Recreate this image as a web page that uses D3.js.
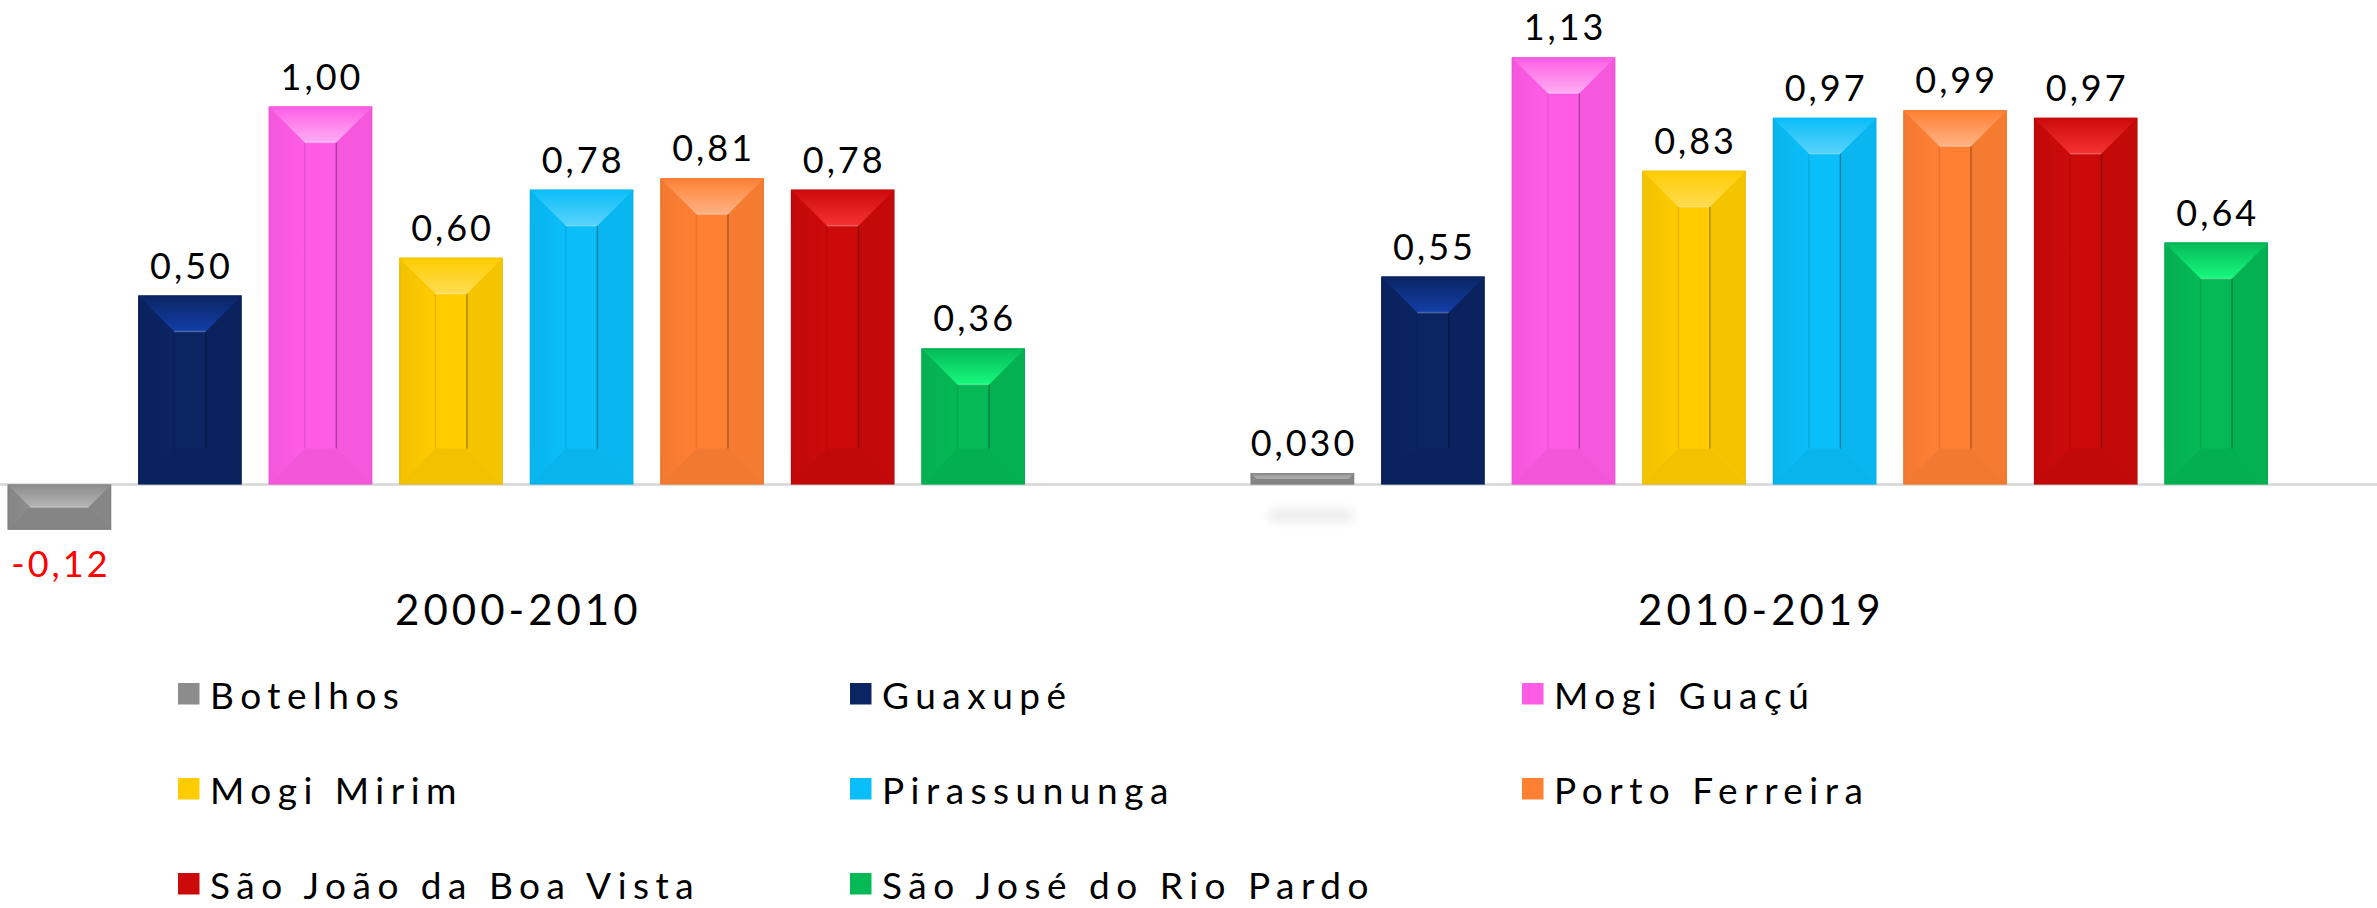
<!DOCTYPE html>
<html>
<head>
<meta charset="utf-8">
<script src="https://cdn.jsdelivr.net/npm/d3@7"></script>
<style>
  html, body { margin: 0; padding: 0; background: #ffffff; }
  svg { display: block; }
  text { font-family: "Lato", "Open Sans", sans-serif; font-weight: 400; fill: #000; }
</style>
</head>
<body>
<svg id="chart" width="2377" height="908"></svg>
<script>
// ---------------- data ----------------
const periods = ["2000-2010", "2010-2019"];
const cities = ["Botelhos", "Guaxupé", "Mogi Guaçú", "Mogi Mirim", "Pirassununga",
                "Porto Ferreira", "São João da Boa Vista", "São José do Rio Pardo"];
const values2000_2010 = [-0.12, 0.50, 1.00, 0.60, 0.78, 0.81, 0.78, 0.36];
const values2010_2019 = [0.030, 0.55, 1.13, 0.83, 0.97, 0.99, 0.97, 0.64];
const cityColors = ["#8c8c8c", "#0b2462", "#ff5ce6", "#ffcc00", "#0abef9",
                    "#ff8033", "#cc0a0a", "#05b956"];

const seriesByPeriod = { "2000-2010": values2000_2010, "2010-2019": values2010_2019 };

// ---------------- setup ----------------
const W = 2377, H = 908;
const svg = d3.select("#chart");
const defs = svg.append("defs");

const x0 = d3.scaleBand().domain(periods).range([7.7, 2268]).paddingInner(0.1816).paddingOuter(0);
const x1 = d3.scaleBand().domain(cities).range([0, x0.bandwidth()]).paddingInner(0.207).paddingOuter(0);
const y = d3.scaleLinear().domain([0, 1]).range([484.5, 106.5]);
const color = d3.scaleOrdinal().domain(cities).range(cityColors);

const ptBR = d3.formatLocale({ decimal: ",", thousands: ".", grouping: [3], currency: ["R$", ""], minus: "-" });
const fmt2 = ptBR.format(".2f"), fmt3 = ptBR.format(".3f");
const fmtVal = v => (Math.abs(v) < 0.1 ? fmt3(v) : fmt2(v));

// gradients per colour
cities.forEach((c, i) => {
  const base = d3.color(color(c));
  const hl = d3.hsl(base); hl.l = Math.min(0.9, hl.l + 0.16);
  const gTop = defs.append("linearGradient").attr("id", "gt" + i)
    .attr("x1", 0).attr("y1", 0).attr("x2", 0).attr("y2", 1);
  gTop.append("stop").attr("offset", "0%").attr("stop-color", base.formatHex());
  gTop.append("stop").attr("offset", "100%").attr("stop-color", hl.formatHex());
  const gLeft = defs.append("linearGradient").attr("id", "gl" + i)
    .attr("x1", 0).attr("y1", 0).attr("x2", 1).attr("y2", 0);
  gLeft.append("stop").attr("offset", "0%").attr("stop-color", base.darker(0.15).formatHex());
  gLeft.append("stop").attr("offset", "100%").attr("stop-color", base.formatHex());
});

// soft shadow filter
const sh = defs.append("filter").attr("id", "soft").attr("x", "-50%").attr("y", "-200%")
  .attr("width", "200%").attr("height", "500%");
sh.append("feGaussianBlur").attr("stdDeviation", 6);

// axis baseline
svg.append("line")
  .attr("x1", 0).attr("x2", W)
  .attr("y1", y(0)).attr("y2", y(0))
  .attr("stroke", "#d6d6d6").attr("stroke-width", 2.5);

// ---------------- bars ----------------
const groups = svg.append("g").selectAll("g")
  .data(periods).join("g")
  .attr("transform", p => `translate(${x0(p)},0)`);

groups.each(function (p) {
  const g = d3.select(this);
  const vals = seriesByPeriod[p];
  cities.forEach((c, i) => {
    const v = vals[i];
    const bx = x1(c), bw = x1.bandwidth();
    const top = Math.min(y(v), y(0)), bot = Math.max(y(v), y(0));
    const bh = bot - top;
    const b = Math.min(36, bh / 2);
    const base = d3.color(color(c));
    const bar = g.append("g");
    // faint shadow for very short bars
    if (bh < 20) {
      bar.append("rect").attr("x", bx + 18).attr("y", bot + 26).attr("width", bw - 20).attr("height", 10)
        .attr("fill", "#000").attr("opacity", 0.1).attr("filter", "url(#soft)");
    }
    bar.append("rect").attr("x", bx).attr("y", top).attr("width", bw).attr("height", bh)
      .attr("fill", base.formatHex());
    // left panel
    bar.append("path").attr("d",
      `M${bx},${top}L${bx + b},${top + b}L${bx + b},${bot - b}L${bx},${bot}Z`)
      .attr("fill", `url(#gl${i})`);
    // right panel
    bar.append("path").attr("d",
      `M${bx + bw},${top}L${bx + bw - b},${top + b}L${bx + bw - b},${bot - b}L${bx + bw},${bot}Z`)
      .attr("fill", "#000").attr("opacity", 0.04);
    // bottom panel
    bar.append("path").attr("d",
      `M${bx},${bot}L${bx + b},${bot - b}L${bx + bw - b},${bot - b}L${bx + bw},${bot}Z`)
      .attr("fill", "#000").attr("opacity", 0.05);
    // top panel (highlight)
    bar.append("path").attr("d",
      `M${bx},${top}L${bx + b},${top + b}L${bx + bw - b},${top + b}L${bx + bw},${top}Z`)
      .attr("fill", `url(#gt${i})`);
    // inner groove lines
    if (bh > 30) {
      bar.append("line").attr("x1", bx + bw - b).attr("x2", bx + bw - b)
        .attr("y1", top + b).attr("y2", bot - b)
        .attr("stroke", "#000").attr("stroke-opacity", 0.3).attr("stroke-width", 1.5);
      bar.append("line").attr("x1", bx + b).attr("x2", bx + b)
        .attr("y1", top + b).attr("y2", bot - b)
        .attr("stroke", "#000").attr("stroke-opacity", 0.1).attr("stroke-width", 1.5);
      bar.append("line").attr("x1", bx + b).attr("x2", bx + bw - b)
        .attr("y1", top + b).attr("y2", top + b)
        .attr("stroke", "#fff").attr("stroke-opacity", 0.25).attr("stroke-width", 1.5);
    }
    // outline
    bar.append("rect").attr("x", bx + 0.5).attr("y", top + 0.5).attr("width", bw - 1).attr("height", bh - 1)
      .attr("fill", "none").attr("stroke", base.darker(0.4).formatHex()).attr("stroke-opacity", 0.4);

    // value label
    g.append("text")
      .attr("x", bx + bw / 2 + 1.5)
      .attr("y", v < 0 ? y(v) + 47 : y(v) - 17)
      .attr("text-anchor", "middle")
      .attr("font-size", 36)
      .attr("letter-spacing", 3)
      .style("fill", v < 0 ? "#ff0000" : "#000")
      .text(fmtVal(v));
  });
});

// category labels
svg.append("g").selectAll("text")
  .data(periods).join("text")
  .attr("x", p => x0(p) + x0.bandwidth() / 2 + 2)
  .attr("y", 625)
  .attr("text-anchor", "middle")
  .attr("font-size", 42)
  .attr("letter-spacing", 4)
  .text(p => p);

// ---------------- legend ----------------
const legendCols = 3, colStep = 672, rowStep = 95, legX = 178, legY = 709;
const leg = svg.append("g").selectAll("g")
  .data(cities).join("g")
  .attr("transform", (c, i) => `translate(${legX + (i % legendCols) * colStep},${legY + Math.floor(i / legendCols) * rowStep})`);
leg.append("rect").attr("x", 0).attr("y", -26).attr("width", 21.5).attr("height", 21.5)
  .attr("fill", c => color(c));
leg.append("text").attr("x", 32).attr("y", 0)
  .attr("font-size", 37)
  .attr("letter-spacing", 6.5)
  .text(c => c);
</script>
</body>
</html>
